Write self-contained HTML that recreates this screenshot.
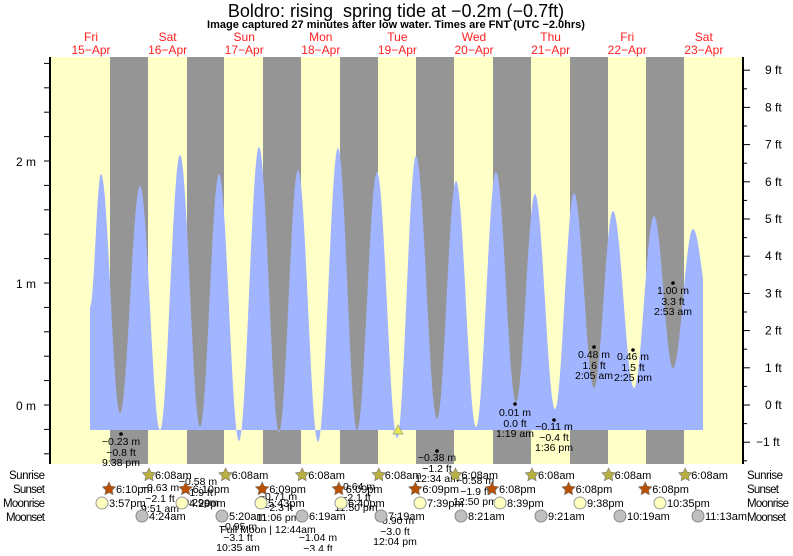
<!DOCTYPE html>
<html><head><meta charset="utf-8"><style>
body{margin:0;background:#fff;width:793px;height:551px;overflow:hidden}
svg{font-family:"Liberation Sans",sans-serif}
</style></head><body>
<svg id="s" width="793" height="551" viewBox="0 0 793 551">
<rect x="50" y="57" width="693" height="407" fill="#ffffc8"/>
<g fill="#959595">
<rect x="110" y="57" width="38" height="407"/><rect x="187" y="57" width="37" height="407"/>
<rect x="263" y="57" width="38" height="407"/><rect x="340" y="57" width="38" height="407"/>
<rect x="416" y="57" width="38" height="407"/><rect x="493" y="57" width="38" height="407"/>
<rect x="570" y="57" width="38" height="407"/><rect x="646" y="57" width="38" height="407"/>
</g>
<path id="tide" fill="#a0b4ff" fill-rule="nonzero"/>
<polygon points="398,425 393,434 403,434" fill="#e6e650" stroke="#999" stroke-width="0.7"/>
<line x1="50" y1="57" x2="50" y2="464" stroke="#000" stroke-width="2"/>
<line x1="743" y1="57" x2="743" y2="464" stroke="#000" stroke-width="2"/>
<g id="ticks" stroke="#000" stroke-width="1"></g>
<g font-size="12" fill="#000" text-anchor="end">
<text x="36" y="166">2 m</text><text x="36" y="288">1 m</text><text x="36" y="410">0 m</text>
</g>
<g id="ft" font-size="12" fill="#000"></g>
<text x="396" y="17" font-size="18" text-anchor="middle">Boldro: rising&#160; spring tide at −0.2m (−0.7ft)</text>
<text x="396" y="28" font-size="11" font-weight="bold" text-anchor="middle">Image captured 27 minutes after low water. Times are FNT (UTC −2.0hrs)</text>
<g id="days" font-size="12" fill="#ff2020" text-anchor="middle"></g>
<g id="lab" font-size="10.5" fill="#000" text-anchor="middle"></g>
<g font-size="11.5" fill="#000">
<text x="9" y="479" textLength="36">Sunrise</text><text x="13" y="493" textLength="32">Sunset</text><text x="3" y="507" textLength="42">Moonrise</text><text x="6" y="521" textLength="39">Moonset</text>
</g>
<g font-size="11.5" fill="#000">
<text x="747" y="479" textLength="36">Sunrise</text><text x="747" y="493" textLength="32">Sunset</text><text x="747" y="507" textLength="42">Moonrise</text><text x="747" y="521" textLength="39">Moonset</text>
</g>
<g id="icons" font-size="11" fill="#000"></g>
</svg>
<script>
var NS="http://www.w3.org/2000/svg";
function el(p,t,a,txt){var e=document.createElementNS(NS,t);for(var k in a)e.setAttribute(k,a[k]);if(txt!==undefined)e.textContent=txt;document.getElementById(p).appendChild(e);return e;}
var pts=[[90,307],[101,174],[120,413],[140,186],[160,430],[180,155],[200,427],[219,174],[239,441],[259,147],[279,432],[298,170],[318,442],[338,148],[357,430],[377,172],[397,438],[416,156],[437,419],[456,181],[476,427],[496,172],[516,402],[535,194],[555,409],[574,193],[594,388],[613,211],[634,388],[654,216],[673,368],[693,229],[713,330]];
var d="M90,430 L90,307 ";
for(var i=0;i<pts.length-1;i++){var a=pts[i],b=pts[i+1];
 for(var x=a[0];x<=b[0];x+=0.5){if(x>703)break;var t=(x-a[0])/(b[0]-a[0]);var y=a[1]+(b[1]-a[1])*(1-Math.cos(Math.PI*t))/2;d+="L"+x+","+y.toFixed(1)+" ";}}
d+="L703,430 Z";document.getElementById("tide").setAttribute("d",d);
for(var m=-0.4;m<=2.81;m+=0.2){var y=405-m*122;if(y<57||y>464)continue;el("ticks","line",{x1:44,x2:50,y1:y,y2:y});}
for(var f=-1;f<=9;f++){var y=405-f*37.2;el("ticks","line",{x1:743,x2:750,y1:y,y2:y});el("ticks","line",{x1:743,x2:747,y1:y+18.6,y2:y+18.6});
 el("ft","text",{x:(f<0?756:765),y:y+4},(f<0?"−1":f)+" ft");}
var dn=["Fri","Sat","Sun","Mon","Tue","Wed","Thu","Fri","Sat"];
for(var i=0;i<9;i++){var x=91+i*76.6;el("days","text",{x:x,y:41},dn[i]);el("days","text",{x:x,y:54},(15+i)+"−Apr");}
var L=[[121,434,445,"−0.23 m","−0.8 ft","9:38 pm"],[160,0,491,"−0.63 m","−2.1 ft","9:51 am"],[198,0,485,"−0.58 m","−1.9 ft","10:29pm"],[238,0,530,"−0.95 m","−3.1 ft","10:35 am"],[278,0,500,"−0.71 m","−2.3 ft","11:06 pm"],[318,0,541,"−1.04 m","−3.4 ft",""],[356,0,490,"−0.64 m","−2.1 ft","11:50 pm"],[395,0,524,"−0.90 m","−3.0 ft","12:04 pm"],[437,451,461,"−0.38 m","−1.2 ft","12:34 am"],[475,0,484,"−0.58 m","−1.9 ft","12:50 pm"],[515,404,416,"0.01 m","0.0 ft","1:19 am"],[554,420,430,"−0.11 m","−0.4 ft","1:36 pm"],[594,347,358,"0.48 m","1.6 ft","2:05 am"],[633,350,360,"0.46 m","1.5 ft","2:25 pm"],[673,283,294,"1.00 m","3.3 ft","2:53 am"]];
L.forEach(function(l){if(l[1])el("lab","circle",{cx:l[0],cy:l[1],r:1.8,fill:"#000"});el("lab","text",{x:l[0],y:l[2]},l[3]);el("lab","text",{x:l[0],y:l[2]+11},l[4]);if(l[5])el("lab","text",{x:l[0],y:l[2]+21},l[5]);});
el("lab","text",{x:268,y:533},"Full Moon | 12:44am");
function star(x,y,c){var p="";for(var i=0;i<10;i++){var r=i%2?3.5:7;var a=-Math.PI/2+i*Math.PI/5;p+=(x+r*Math.cos(a)).toFixed(1)+","+(y+r*Math.sin(a)).toFixed(1)+" ";}el("icons","polygon",{points:p,fill:c,stroke:"#777","stroke-width":0.6});}
for(var i=0;i<8;i++){var x=149+i*76.6;star(x,475,"#b8b040");el("icons","text",{x:x+6,y:479},"6:08am");}
var ss=["6:10pm","6:10pm","6:09pm","6:09pm","6:09pm","6:08pm","6:08pm","6:08pm"];
for(var i=0;i<8;i++){var x=109+i*76.6;star(x,489,"#b85000");el("icons","text",{x:x+7,y:493},ss[i]);}
var mr=[[102,"3:57pm"],[182,"4:29pm"],[261,"5:43pm"],[341,"6:40pm"],[420,"7:39pm"],[500,"8:39pm"],[580,"9:38pm"],[660,"10:35pm"]];
mr.forEach(function(m){el("icons","circle",{cx:m[0],cy:503,r:6,fill:"#ffffc0",stroke:"#999"});el("icons","text",{x:m[0]+7,y:507},m[1]);});
var ms=[[142,"4:24am"],[222,"5:20am"],[302,"6:19am"],[381,"7:19am"],[461,"8:21am"],[541,"9:21am"],[620,"10:19am"],[698,"11:13am"]];
ms.forEach(function(m){el("icons","circle",{cx:m[0],cy:516,r:6,fill:"#c0c0c0",stroke:"#888"});el("icons","text",{x:m[0]+7,y:520},m[1]);});
</script>
</body></html>
